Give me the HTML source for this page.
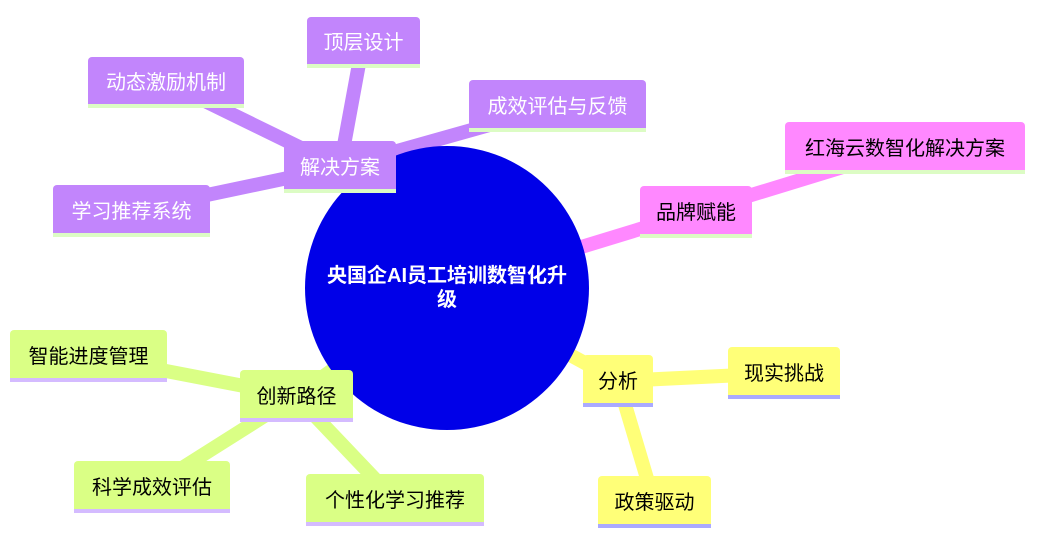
<!DOCTYPE html>
<html><head><meta charset="utf-8"><style>
body{margin:0;width:1043px;height:549px;background:#fff;overflow:hidden;position:relative;font-family:"Liberation Sans","Noto Sans CJK SC",sans-serif}
.n{position:absolute;box-sizing:border-box;border-radius:4px 4px 0 0;display:flex;align-items:center;justify-content:center;font-size:20px;white-space:nowrap}
.p{background:#c285fc;color:#fff;border-bottom:4px solid #dcfcc4}
.k{background:#ff88ff;color:#000;border-bottom:4px solid #dcfcc4}
.y{background:#ffff78;color:#000;border-bottom:4px solid #aaaaff}
.g{background:#daff85;color:#000;border-bottom:4px solid #d4bbff}
svg{position:absolute;left:0;top:0}
.root{position:absolute;left:305px;top:146px;width:284px;height:284px;border-radius:50%;background:#0000e8;color:#fff;display:flex;align-items:center;justify-content:center;text-align:center;font-size:20px;font-weight:bold;line-height:24px;padding:0 20px;box-sizing:border-box}
</style></head><body>
<svg width="1043" height="549">
<g stroke-linecap="round" fill="none">
<g stroke="#c285fc" stroke-width="14">
<line x1="340" y1="167" x2="447" y2="288"/>
<line x1="340" y1="167" x2="363" y2="42"/>
<line x1="340" y1="167" x2="166" y2="82"/>
<line x1="340" y1="167" x2="557" y2="106"/>
<line x1="340" y1="167" x2="131" y2="211"/>
</g>
<g stroke="#ff88ff" stroke-width="14">
<line x1="447" y1="288" x2="696" y2="212"/>
<line x1="696" y1="212" x2="905" y2="148"/>
</g>
<g stroke="#ffff78" stroke-width="14">
<line x1="447" y1="288" x2="618" y2="381"/>
<line x1="618" y1="381" x2="784" y2="373"/>
<line x1="618" y1="381" x2="654" y2="502"/>
</g>
<g stroke="#daff85" stroke-width="14">
<line x1="447" y1="288" x2="296" y2="396"/>
<line x1="296" y1="396" x2="88" y2="356"/>
<line x1="296" y1="396" x2="152" y2="487"/>
<line x1="296" y1="396" x2="395" y2="500"/>
</g>
</g>
</svg>
<div class="root">央国企AI员工培训数智化升级</div>
<div class="n p" style="left:307px;top:17px;width:113px;height:51px">顶层设计</div>
<div class="n p" style="left:88px;top:57px;width:156px;height:51px">动态激励机制</div>
<div class="n p" style="left:469px;top:80px;width:177px;height:52px">成效评估与反馈</div>
<div class="n p" style="left:284px;top:141px;width:112px;height:52px">解决方案</div>
<div class="n p" style="left:53px;top:185px;width:157px;height:52px">学习推荐系统</div>
<div class="n k" style="left:640px;top:186px;width:112px;height:52px">品牌赋能</div>
<div class="n k" style="left:785px;top:122px;width:240px;height:52px">红海云数智化解决方案</div>
<div class="n y" style="left:583px;top:355px;width:70px;height:52px">分析</div>
<div class="n y" style="left:728px;top:347px;width:112px;height:52px">现实挑战</div>
<div class="n y" style="left:598px;top:476px;width:113px;height:52px">政策驱动</div>
<div class="n g" style="left:10px;top:330px;width:157px;height:52px">智能进度管理</div>
<div class="n g" style="left:240px;top:370px;width:113px;height:52px">创新路径</div>
<div class="n g" style="left:74px;top:461px;width:156px;height:52px">科学成效评估</div>
<div class="n g" style="left:306px;top:474px;width:178px;height:52px">个性化学习推荐</div>
</body></html>
